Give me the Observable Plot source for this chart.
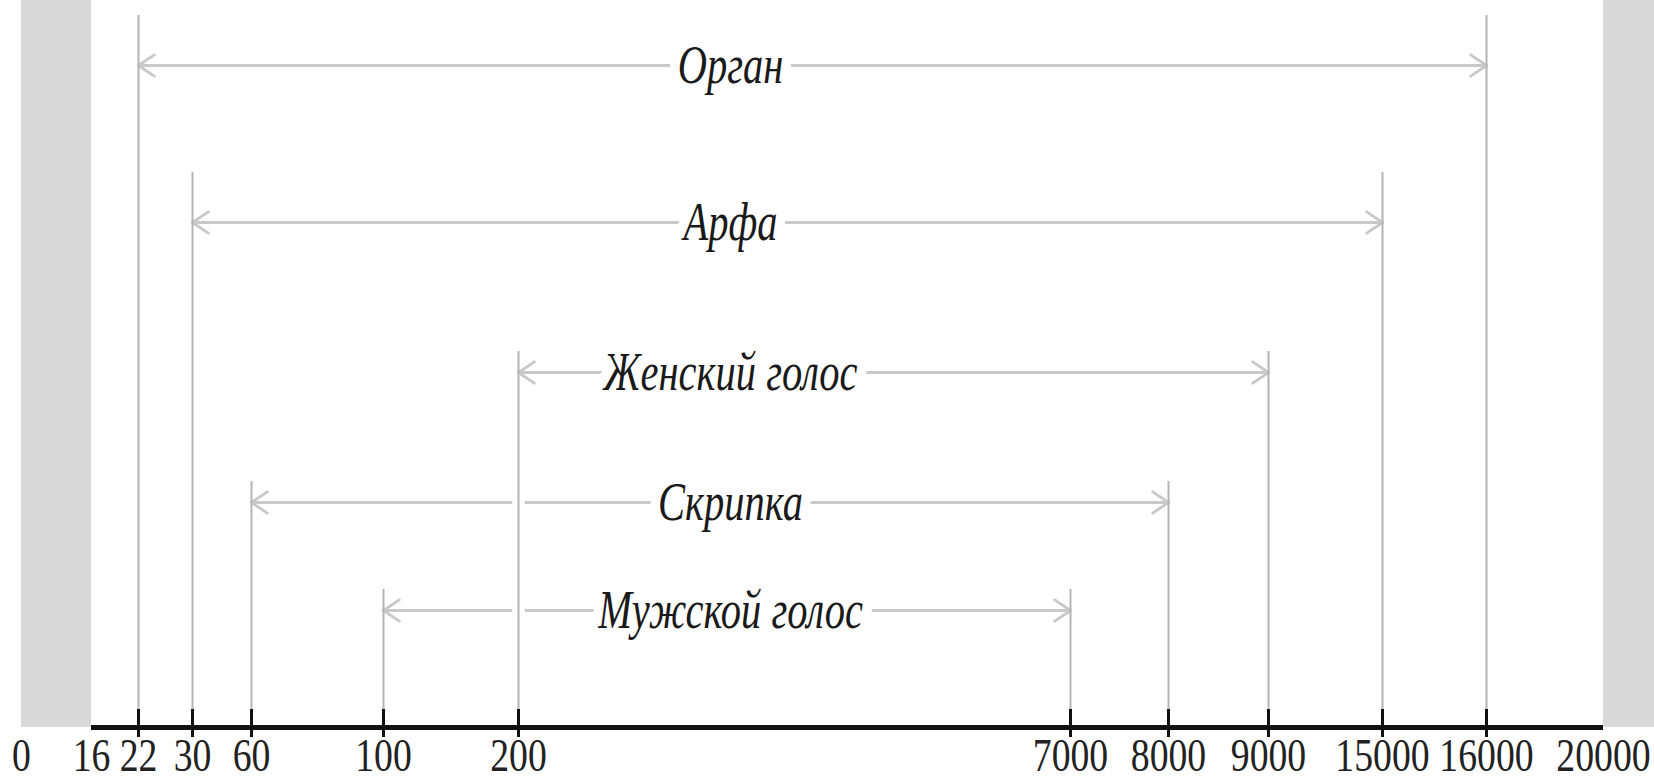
<!DOCTYPE html>
<html>
<head>
<meta charset="utf-8">
<script src="https://cdn.jsdelivr.net/npm/d3@7"></script>
<script src="https://cdn.jsdelivr.net/npm/@observablehq/plot@0.6"></script>
<style>
  html, body { margin: 0; padding: 0; background: #fff; }
  #chart svg { display: block; }
</style>
</head>
<body>
<div id="chart"></div>
<script>
// ---- data ----
const instruments = ["Орган", "Арфа", "Женский голос", "Скрипка", "Мужской голос"];
const lowHz  = [22, 30, 200, 60, 100];
const highHz = [16000, 15000, 9000, 8000, 7000];
const tickValues = [0, 16, 22, 30, 60, 100, 200, 7000, 8000, 9000, 15000, 16000, 20000];
const tickLabels = tickValues.map(String);

// ---- derived tables ----
const rows = instruments.map((name, i) => ({name, row: i, low: lowHz[i], high: highHz[i]}));
const axisRow = instruments.length;
const endpoints = rows.flatMap(r => [{row: r.row, x: r.low}, {row: r.row, x: r.high}]);
const crossings = [];
rows.forEach(r => endpoints.forEach(e => {
  if (e.row < r.row && e.x > r.low && e.x < r.high) crossings.push({x: e.x, row: r.row});
}));
const tickMarks = tickValues.filter(v => endpoints.some(e => e.x === v));
const ticks = tickValues.map((v, i) => ({v, label: tickLabels[i]}));
const bands = [
  {x1: tickValues[0], x2: tickValues[1]},
  {x1: tickValues[tickValues.length - 1], x2: tickValues[tickValues.length - 1] * 2}
];

const lineGrey = "#c9c9c9";
const vertGrey = "#b4b4b4";

const chart = Plot.plot({
  width: 1654,
  height: 783,
  margin: 0,
  style: {background: "#fff", overflow: "hidden"},
  x: {type: "linear", domain: tickValues,
      range: [21, 91, 138, 192, 251, 383, 518, 1070, 1168, 1268, 1382, 1486, 1603], axis: null},
  y: {type: "linear", domain: [0, 1, 2, 3, 4, 5],
      range: [65, 222, 372, 502, 610, 727], axis: null},
  marks: [
    Plot.rect(bands, {x1: "x1", x2: "x2", y1: axisRow, y2: -1, fill: "#d9d9d9"}),
    // double-headed range arrows
    Plot.arrow(rows, {x1: "low", x2: "high", y1: "row", y2: "row",
      stroke: lineGrey, strokeWidth: 3, headLength: 9.5, headAngle: 68}),
    Plot.arrow(rows, {x1: "high", x2: "low", y1: "row", y2: "row",
      stroke: lineGrey, strokeWidth: 3, headLength: 9.5, headAngle: 68}),
    // gaps where a range line passes a vertical from above
    Plot.dot(crossings, {x: "x", y: "row", symbol: "square", r: 7, fill: "#fff", stroke: "none"}),
    // vertical boundary lines
    Plot.ruleX(rows.filter(r => r.row < 2).flatMap(r => [{x: r.low, row: r.row}, {x: r.high, row: r.row}]),
      {x: "x", y1: "row", y2: axisRow, insetTop: -50, stroke: vertGrey, strokeWidth: 2}),
    Plot.ruleX(rows.filter(r => r.row >= 2).flatMap(r => [{x: r.low, row: r.row}, {x: r.high, row: r.row}]),
      {x: "x", y1: "row", y2: axisRow, insetTop: -21, stroke: vertGrey, strokeWidth: 2}),
    // instrument labels with white halo
    Plot.text(rows, {y: "row", text: "name", dx: -97, frameAnchor: "middle",
      fontFamily: "Liberation Serif", fontStyle: "italic", fontSize: 54,
      fill: "#1a1a1a", stroke: "#fff", strokeWidth: 26, strokeLinejoin: "round"}),
    // axis line
    Plot.ruleY([axisRow], {x1: tickValues[1], x2: tickValues[tickValues.length - 1],
      stroke: "#111", strokeWidth: 5}),
    // tick marks
    Plot.ruleX(tickMarks, {x: d => d, y1: axisRow, y2: axisRow, insetTop: -18, insetBottom: -10,
      stroke: "#111", strokeWidth: 3}),
    // tick labels
    Plot.text(ticks, {x: "v", y: axisRow, text: "label", dy: 11, lineAnchor: "top",
      fontFamily: "Liberation Serif", fontSize: 46, fill: "#222", className: "ticklabel"})
  ]
});

// condense text horizontally (narrow serif look)
chart.querySelectorAll("text").forEach(t => {
  const isTick = /^\d+$/.test(t.textContent);
  t.setAttribute("transform", (t.getAttribute("transform") || "") + (isTick ? " scale(0.82,1)" : " scale(0.75,1)"));
  t.style.paintOrder = "stroke";
});
document.getElementById("chart").appendChild(chart);
</script>
</body>
</html>
